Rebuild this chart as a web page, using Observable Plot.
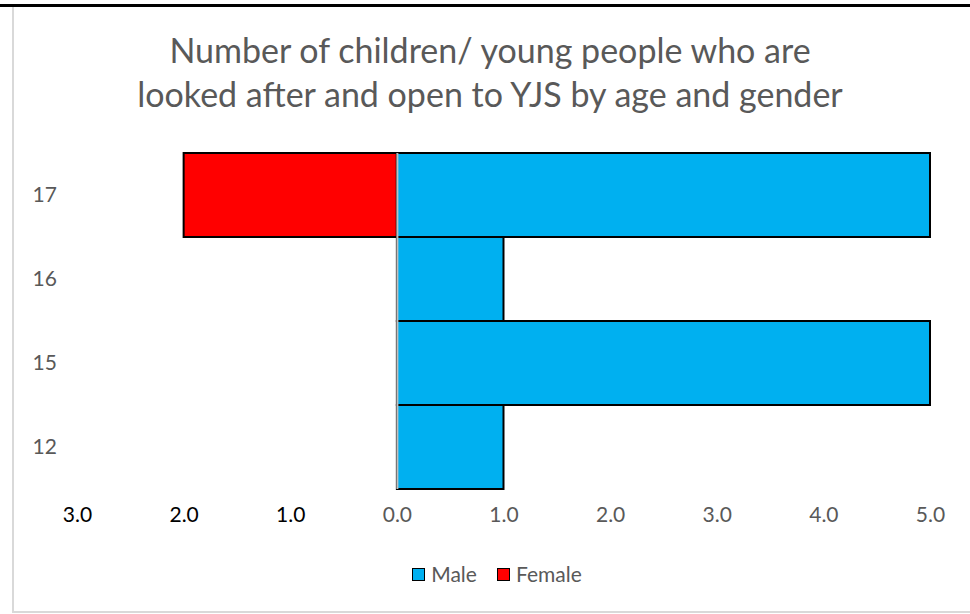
<!DOCTYPE html>
<html>
<head>
<meta charset="utf-8">
<script src="https://cdn.jsdelivr.net/npm/d3@7"></script>
<script src="https://cdn.jsdelivr.net/npm/@observablehq/plot@0.6"></script>
<style>
  html, body { margin: 0; padding: 0; background: #fff; }
  #wrap { position: relative; width: 970px; height: 614px; overflow: hidden; font-family: Lato, sans-serif; }
  #topline { position: absolute; left: 0; top: 4px; width: 970px; height: 3px; background: #000; }
  #leftline { position: absolute; left: 12px; top: 7px; width: 2px; height: 606px; background: #d9d9d9; }
  #bottomline { position: absolute; left: 12px; top: 611px; width: 960px; height: 2px; background: #d9d9d9; }
  #title { position: absolute; left: 0; top: 28px; width: 980px; text-align: center; color: #595959; font-size: 34px; line-height: 44px; white-space: nowrap; }
  #chart { position: absolute; left: 0; top: 0; }
  #legend { position: absolute; left: 0; top: 562px; width: 994px; height: 24px; display: flex; justify-content: center; align-items: center; color: #595959; font-size: 21px; line-height: 24px; }
  .item { display: flex; align-items: center; margin: 0 10px; }
  .sw { width: 11px; height: 11px; border: 1.5px solid #000; margin-right: 6px; }
</style>
</head>
<body>
<div id="wrap">
  <div id="topline"></div>
  <div id="leftline"></div>
  <div id="bottomline"></div>
  <div id="chart"></div>
  <div id="title">Number of children/ young people who are<br>looked after and open to YJS by age and gender</div>
  <div id="legend"></div>
</div>
<script>
const ages = ["17", "16", "15", "12"];
const male = [5, 1, 5, 1];
const female = [2, 0, 0, 0];
const xTicks = [-3, -2, -1, 0, 1, 2, 3, 4, 5];
const seriesNames = ["Male", "Female"];
const seriesColors = ["#00b0f0", "#ff0000"];

const maleRows = ages.map((a, i) => ({age: a, value: male[i]})).filter(d => d.value > 0);
const femaleRows = ages.map((a, i) => ({age: a, value: female[i]})).filter(d => d.value > 0);

const chart = Plot.plot({
  width: 970,
  height: 614,
  marginLeft: 77,
  marginRight: 40,
  marginTop: 153,
  marginBottom: 125,
  x: {domain: [-3, 5], axis: null},
  y: {domain: ages, axis: null, padding: 0},
  style: {fontFamily: "Lato, sans-serif", background: "transparent", overflow: "visible"},
  marks: [
    Plot.barX(femaleRows, {y: "age", x1: d => -d.value, x2: 0, fill: seriesColors[1], stroke: "#000", strokeWidth: 2}),
    Plot.barX(maleRows, {y: "age", x1: 0, x2: "value", fill: seriesColors[0], stroke: "#000", strokeWidth: 2}),
    Plot.ruleX([0], {stroke: "#bfbfbf", strokeWidth: 2}),
    Plot.text(xTicks, {x: d => d, frameAnchor: "bottom", dy: 32, text: d => Math.abs(d).toFixed(1), fill: d => d < 0 ? "#000" : "#595959", fontSize: 21}),
    Plot.text(ages, {y: d => d, frameAnchor: "left", dx: -45, textAnchor: "start", text: d => d, fill: "#595959", fontSize: 21})
  ]
});
document.getElementById("chart").appendChild(chart);

const legend = document.getElementById("legend");
seriesNames.forEach((name, i) => {
  const item = document.createElement("div");
  item.className = "item";
  const sw = document.createElement("div");
  sw.className = "sw";
  sw.style.background = seriesColors[i];
  const lab = document.createElement("span");
  lab.textContent = name;
  item.appendChild(sw);
  item.appendChild(lab);
  legend.appendChild(item);
});
</script>
</body>
</html>
